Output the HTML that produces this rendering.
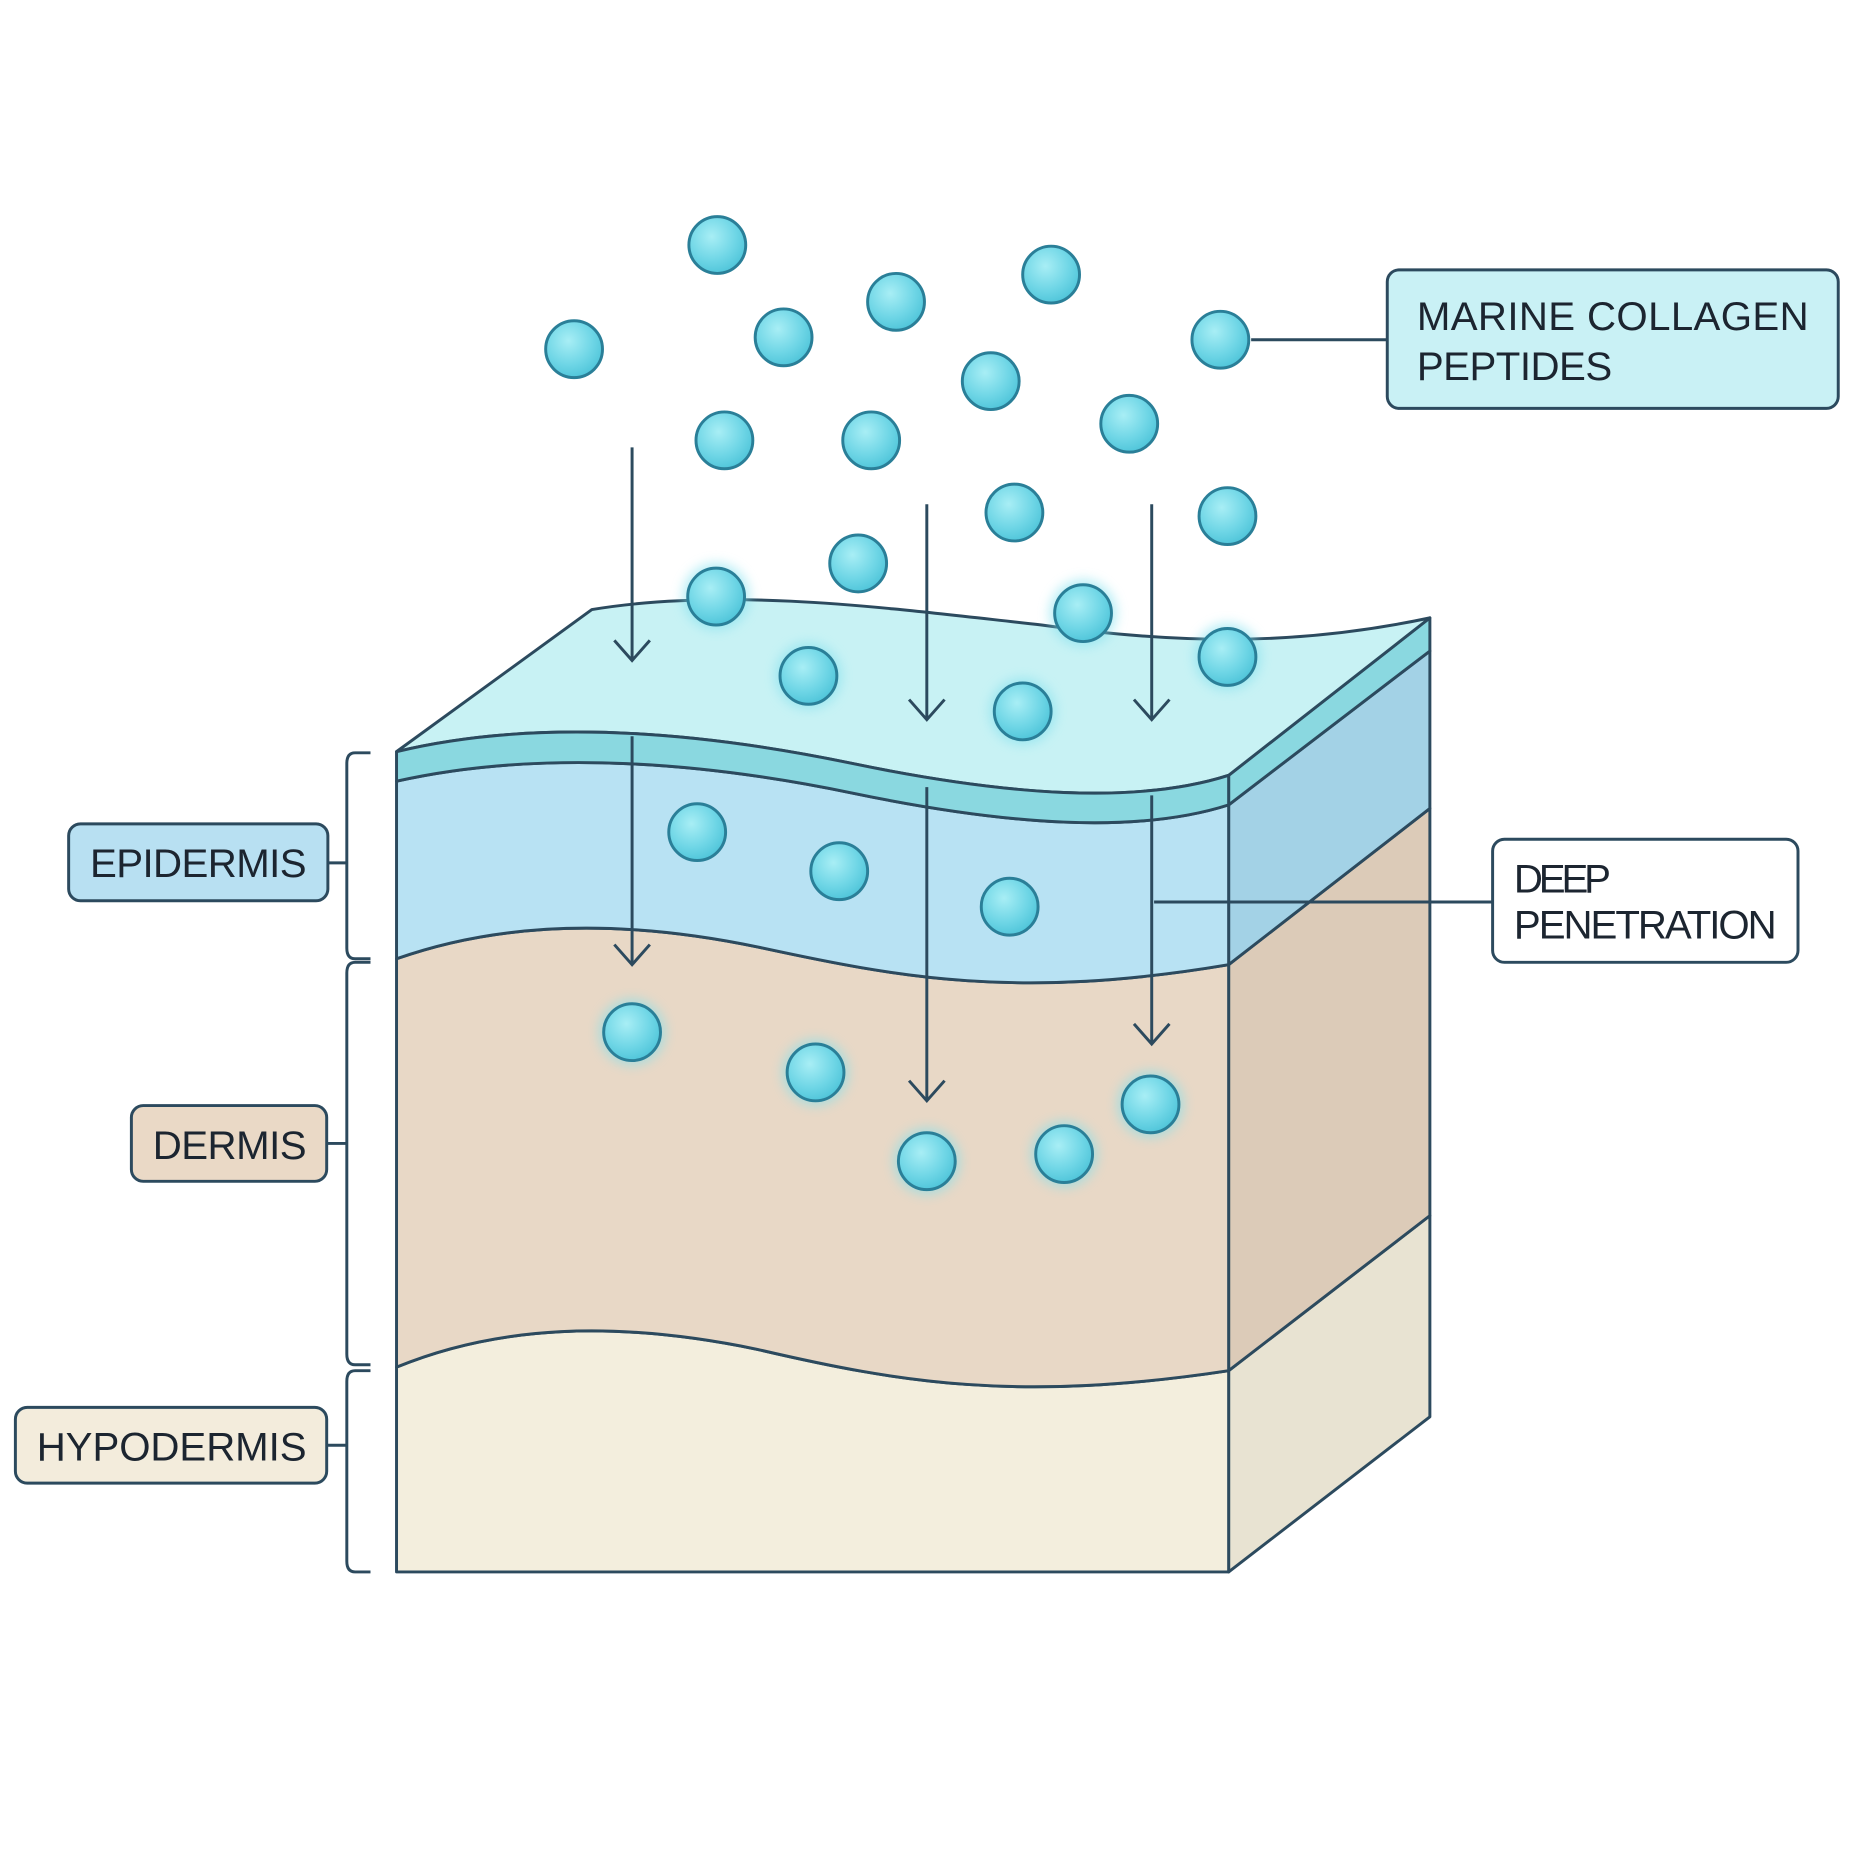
<!DOCTYPE html>
<html><head><meta charset="utf-8"><style>html,body{margin:0;padding:0;background:#fff}svg{display:block}</style></head>
<body>
<svg width="1856" height="1856" viewBox="0 0 1568 1568" xmlns="http://www.w3.org/2000/svg">
<defs>
<radialGradient id="b" cx="0.4" cy="0.35" r="0.7">
<stop offset="0" stop-color="#a8eef5"/><stop offset="0.6" stop-color="#6fd6e6"/><stop offset="1" stop-color="#4cc3d8"/>
</radialGradient>
<filter id="g" x="-50%" y="-50%" width="200%" height="200%"><feGaussianBlur stdDeviation="5"/></filter>
</defs>
<g stroke="#2c4a5e" stroke-width="2.5" stroke-linejoin="round">
<!-- side faces -->
<polygon points="1038,1158 1208,1027 1208,1197 1038,1328" fill="#e8e3d2"/>
<polygon points="1038,815 1208,683 1208,1027 1038,1158" fill="#dccbb8"/>
<polygon points="1038,680 1208,550 1208,683 1038,815" fill="#a3d2e6"/>
<polygon points="1038,655 1208,522 1208,550 1038,680" fill="#8ad8e0"/>
<!-- top surface -->
<path d="M500,515 C620,495 760,515 880,528 C1000,545 1100,545 1208,522 L1038,655 C960,680 850,672 720,645 C600,620 460,605 335,635 Z" fill="#c8f2f4"/>
<!-- front hypodermis -->
<path d="M335,1155 C420,1120 520,1115 640,1140 C760,1168 860,1185 1038,1158 L1038,1328 L335,1328 Z" fill="#f3eedd"/>
<!-- dermis -->
<path d="M335,810 C420,780 520,775 640,800 C760,826 860,845 1038,815 L1038,1158 C860,1185 760,1168 640,1140 C520,1115 420,1120 335,1155 Z" fill="#e8d8c6"/>
<!-- epidermis -->
<path d="M335,660 C460,632 600,645 720,670 C850,697 960,705 1038,680 L1038,815 C860,845 760,826 640,800 C520,775 420,780 335,810 Z" fill="#b8e2f3"/>
<!-- band -->
<path d="M335,635 C460,605 600,620 720,645 C850,672 960,680 1038,655 L1038,680 C960,705 850,697 720,670 C600,645 460,632 335,660 Z" fill="#8ad8e0"/>
</g>
<!-- arrows -->
<g stroke="#2c4a5e" stroke-width="2.5" fill="none">
<path d="M534,378 V558 M519,541 L534,558 L549,541"/>
<path d="M534,622 V815 M519,798 L534,815 L549,798"/>
<path d="M783,426 V608 M768,591 L783,608 L798,591"/>
<path d="M783,665 V930 M768,913 L783,930 L798,913"/>
<path d="M973,426 V608 M958,591 L973,608 L988,591"/>
<path d="M973,672 V882 M958,865 L973,882 L988,865"/>
<path d="M1057,287 H1172"/>
<path d="M975,762 H1261"/>
<path d="M313,636 H300 Q293,636 293,645 V801 Q293,810 300,810 H313 M277,729 H293"/>
<path d="M313,813 H300 Q293,813 293,822 V1144 Q293,1153 300,1153 H313 M277,966 H293"/>
<path d="M313,1158 H300 Q293,1158 293,1167 V1319 Q293,1328 300,1328 H313 M277,1221 H293"/>
</g>
<!-- bubbles -->
<g>
<g fill="#7fe0ee" opacity="0.6" filter="url(#g)">
<circle cx="605" cy="504" r="28"/><circle cx="915" cy="518" r="28"/><circle cx="1037" cy="555" r="28"/><circle cx="683" cy="571" r="28"/><circle cx="864" cy="601" r="28"/><circle cx="534" cy="872" r="28"/><circle cx="689" cy="906" r="28"/><circle cx="783" cy="981" r="28"/><circle cx="899" cy="975" r="28"/><circle cx="972" cy="933" r="28"/>
</g>
<g fill="url(#b)" stroke="#2a7f98" stroke-width="2.5">
<circle cx="606" cy="207" r="24"/><circle cx="485" cy="295" r="24"/><circle cx="662" cy="285" r="24"/><circle cx="757" cy="255" r="24"/><circle cx="888" cy="232" r="24"/><circle cx="1031" cy="287" r="24"/><circle cx="837" cy="322" r="24"/><circle cx="612" cy="372" r="24"/><circle cx="736" cy="372" r="24"/><circle cx="954" cy="358" r="24"/><circle cx="857" cy="433" r="24"/><circle cx="1037" cy="436" r="24"/><circle cx="725" cy="476" r="24"/><circle cx="605" cy="504" r="24"/><circle cx="915" cy="518" r="24"/><circle cx="1037" cy="555" r="24"/><circle cx="683" cy="571" r="24"/><circle cx="864" cy="601" r="24"/><circle cx="589" cy="703" r="24"/><circle cx="709" cy="736" r="24"/><circle cx="853" cy="766" r="24"/><circle cx="534" cy="872" r="24"/><circle cx="689" cy="906" r="24"/><circle cx="783" cy="981" r="24"/><circle cx="899" cy="975" r="24"/><circle cx="972" cy="933" r="24"/>
</g>
</g>
<!-- labels -->
<g stroke="#2c4a5e" stroke-width="2.5">
<rect x="1172" y="228" width="381" height="117" rx="10" fill="#c9f1f5"/>
<rect x="1261" y="709" width="258" height="104" rx="10" fill="#fff"/>
<rect x="58" y="696" width="219" height="65" rx="10" fill="#b8e0f2"/>
<rect x="111" y="934" width="165" height="64" rx="10" fill="#ead9c6"/>
<rect x="13" y="1189" width="263" height="64" rx="10" fill="#f3ecdc"/>
</g>
<g font-family="Liberation Sans, sans-serif" font-size="34" fill="#1c2530">
<text x="1197" y="279" textLength="331">MARINE COLLAGEN</text>
<text x="1197" y="321" textLength="165">PEPTIDES</text>
<text x="1279" y="754" textLength="82">DEEP</text>
<text x="1279" y="793" textLength="222">PENETRATION</text>
<text x="76" y="741" textLength="183">EPIDERMIS</text>
<text x="129" y="979" textLength="130">DERMIS</text>
<text x="31" y="1234" textLength="228">HYPODERMIS</text>
</g>
</svg>
</body></html>
